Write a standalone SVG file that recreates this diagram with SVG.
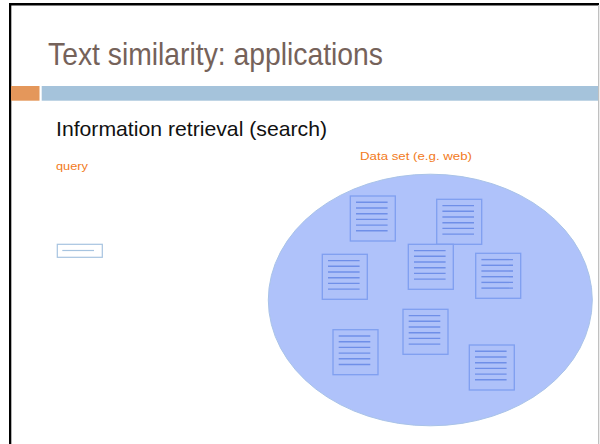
<svg xmlns="http://www.w3.org/2000/svg" width="600" height="444" viewBox="0 0 600 444">
<defs>
<style>
.doc rect{fill:#aec1f9;stroke:#7f9ff0;stroke-width:1.3}
.doc line{stroke:#6f8fe8;stroke-width:1.4}
text{font-family:"Liberation Sans",Arial,sans-serif}
</style>
<g id="docshape" class="doc">
<rect x="0" y="0" width="45" height="45"/>
<line x1="5.7" y1="6.3" x2="37.3" y2="6.3"/>
<line x1="5.7" y1="12" x2="37.3" y2="12"/>
<line x1="5.7" y1="17.7" x2="37.3" y2="17.7"/>
<line x1="5.7" y1="23.4" x2="37.3" y2="23.4"/>
<line x1="5.7" y1="29.1" x2="37.3" y2="29.1"/>
<line x1="5.7" y1="34.8" x2="37.3" y2="34.8"/>
</g>
</defs>
<rect width="600" height="444" fill="#ffffff"/>
<g id="frame">
<rect x="9" y="3" width="590" height="2.5" fill="#000"/>
<rect x="9" y="3" width="2.3" height="441" fill="#000"/>
<rect x="598" y="5" width="1.3" height="439" fill="#c0c0c0"/>
</g>
<g id="title">
<text x="48" y="65" font-size="32" fill="#75625a" textLength="335" lengthAdjust="spacingAndGlyphs">Text similarity: applications</text>
</g>
<g id="bars">
<rect x="11" y="86" width="28.5" height="14.7" fill="#e4975b"/>
<rect x="41.7" y="86" width="556.3" height="14.7" fill="#a5c3db"/>
</g>
<g id="subtitle">
<text x="56" y="136" font-size="21" fill="#111" textLength="271" lengthAdjust="spacingAndGlyphs">Information retrieval (search)</text>
</g>
<g id="query">
<text x="56" y="170" font-size="11" fill="#f27a22" textLength="32" lengthAdjust="spacingAndGlyphs">query</text>
<rect x="57.3" y="244.3" width="45" height="13" fill="#fff" stroke="#a7c4e0" stroke-width="1.2"/>
<line x1="62.3" y1="250.5" x2="94" y2="250.5" stroke="#a7c4e0" stroke-width="1.2"/>
</g>
<g id="dataset">
<text x="360" y="160" font-size="11.5" fill="#f27a22" textLength="112" lengthAdjust="spacingAndGlyphs">Data set (e.g. web)</text>
<ellipse cx="430.3" cy="300" rx="162" ry="125.8" fill="#afc2fa" stroke="#a9c3e8" stroke-width="1"/>
</g>
<g id="doc1"><use href="#docshape" x="350.3" y="196"/></g>
<g id="doc2"><use href="#docshape" x="436.7" y="199.3"/></g>
<g id="doc3"><use href="#docshape" x="322.3" y="254.3"/></g>
<g id="doc4"><use href="#docshape" x="408.3" y="244.3"/></g>
<g id="doc5"><use href="#docshape" x="475.7" y="253.3"/></g>
<g id="doc6"><use href="#docshape" x="333" y="329.7"/></g>
<g id="doc7"><use href="#docshape" x="403" y="309.3"/></g>
<g id="doc8"><use href="#docshape" x="469.3" y="345"/></g>
<g id="connectors"></g>
</svg>
